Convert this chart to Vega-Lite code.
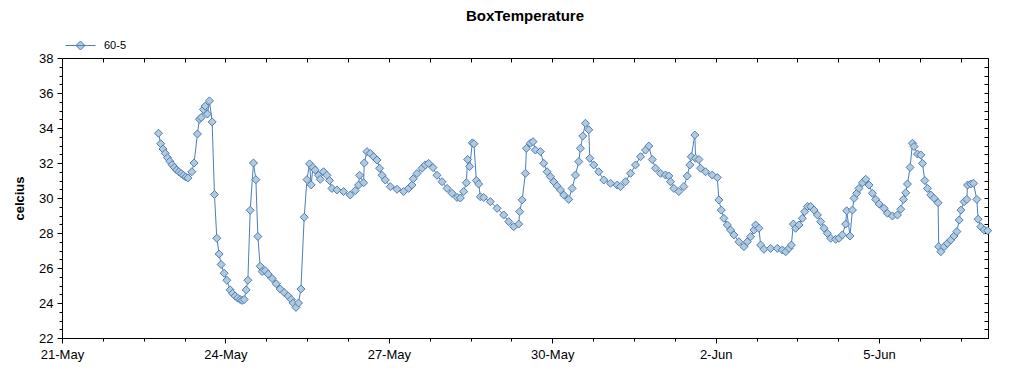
{
  "$schema": "https://vega.github.io/schema/vega-lite/v6.json",
  "width": 926,
  "height": 280,
  "autosize": {"type": "none"},
  "padding": {"left": 62, "top": 58, "right": 36, "bottom": 37},
  "background": "white",
  "title": {"text": "BoxTemperature", "anchor": "middle", "font": "Liberation Sans", "fontSize": 15, "fontWeight": "bold", "color": "black", "offset": 6},
  "config": {
    "view": {"stroke": "black", "strokeWidth": 1},
    "axis": {"grid": false, "domainColor": "black", "tickColor": "black", "labelColor": "black", "labelFont": "Liberation Sans", "titleFont": "Liberation Sans", "titleColor": "black", "labelOverlap": false, "labelFlush": false}
  },
  "data": {"values": [
    {"t":"2010-05-22T18:30","v":33.7,"s":"60-5"},{"t":"2010-05-22T19:30","v":33.1,"s":"60-5"},{"t":"2010-05-22T20:30","v":32.8,"s":"60-5"},{"t":"2010-05-22T21:30","v":32.55,"s":"60-5"},{"t":"2010-05-22T22:30","v":32.3,"s":"60-5"},{"t":"2010-05-22T23:30","v":32.1,"s":"60-5"},{"t":"2010-05-23T00:30","v":31.9,"s":"60-5"},{"t":"2010-05-23T01:30","v":31.75,"s":"60-5"},{"t":"2010-05-23T02:30","v":31.6,"s":"60-5"},{"t":"2010-05-23T03:30","v":31.5,"s":"60-5"},{"t":"2010-05-23T04:30","v":31.4,"s":"60-5"},{"t":"2010-05-23T05:30","v":31.3,"s":"60-5"},{"t":"2010-05-23T06:30","v":31.2,"s":"60-5"},{"t":"2010-05-23T07:30","v":31.15,"s":"60-5"},
    {"t":"2010-05-23T09:12","v":31.5,"s":"60-5"},{"t":"2010-05-23T10:12","v":32.0,"s":"60-5"},{"t":"2010-05-23T11:40","v":33.66,"s":"60-5"},{"t":"2010-05-23T12:33","v":34.5,"s":"60-5"},{"t":"2010-05-23T13:18","v":34.6,"s":"60-5"},{"t":"2010-05-23T14:18","v":35.06,"s":"60-5"},{"t":"2010-05-23T15:04","v":35.25,"s":"60-5"},{"t":"2010-05-23T16:05","v":34.8,"s":"60-5"},{"t":"2010-05-23T16:58","v":35.55,"s":"60-5"},{"t":"2010-05-23T18:09","v":34.35,"s":"60-5"},{"t":"2010-05-23T19:10","v":30.2,"s":"60-5"},{"t":"2010-05-23T20:13","v":27.7,"s":"60-5"},{"t":"2010-05-23T21:14","v":26.8,"s":"60-5"},{"t":"2010-05-23T22:07","v":26.2,"s":"60-5"},{"t":"2010-05-23T23:26","v":25.7,"s":"60-5"},
    {"t":"2010-05-24T00:38","v":25.3,"s":"60-5"},{"t":"2010-05-24T02:05","v":24.75,"s":"60-5"},{"t":"2010-05-24T03:10","v":24.55,"s":"60-5"},{"t":"2010-05-24T04:17","v":24.4,"s":"60-5"},{"t":"2010-05-24T05:24","v":24.28,"s":"60-5"},{"t":"2010-05-24T06:30","v":24.2,"s":"60-5"},{"t":"2010-05-24T07:22","v":24.15,"s":"60-5"},{"t":"2010-05-24T08:16","v":24.2,"s":"60-5"},{"t":"2010-05-24T09:09","v":24.75,"s":"60-5"},{"t":"2010-05-24T09:54","v":25.3,"s":"60-5"},{"t":"2010-05-24T10:55","v":29.3,"s":"60-5"},{"t":"2010-05-24T12:22","v":32.0,"s":"60-5"},{"t":"2010-05-24T13:25","v":31.05,"s":"60-5"},{"t":"2010-05-24T14:18","v":27.8,"s":"60-5"},{"t":"2010-05-24T15:19","v":26.1,"s":"60-5"},{"t":"2010-05-24T16:12","v":25.8,"s":"60-5"},{"t":"2010-05-24T17:31","v":25.85,"s":"60-5"},{"t":"2010-05-24T18:51","v":25.65,"s":"60-5"},{"t":"2010-05-24T20:36","v":25.4,"s":"60-5"},{"t":"2010-05-24T22:22","v":25.1,"s":"60-5"},
    {"t":"2010-05-25T00:08","v":24.8,"s":"60-5"},{"t":"2010-05-25T01:54","v":24.6,"s":"60-5"},{"t":"2010-05-25T03:40","v":24.4,"s":"60-5"},{"t":"2010-05-25T05:00","v":24.2,"s":"60-5"},{"t":"2010-05-25T05:52","v":24.0,"s":"60-5"},{"t":"2010-05-25T07:04","v":23.75,"s":"60-5"},{"t":"2010-05-25T08:13","v":24.0,"s":"60-5"},{"t":"2010-05-25T09:16","v":24.8,"s":"60-5"},{"t":"2010-05-25T10:43","v":28.9,"s":"60-5"},{"t":"2010-05-25T11:55","v":31.05,"s":"60-5"},{"t":"2010-05-25T13:04","v":31.95,"s":"60-5"},{"t":"2010-05-25T13:48","v":30.75,"s":"60-5"},{"t":"2010-05-25T14:33","v":31.75,"s":"60-5"},{"t":"2010-05-25T15:34","v":31.6,"s":"60-5"},{"t":"2010-05-25T17:02","v":31.3,"s":"60-5"},{"t":"2010-05-25T17:47","v":31.07,"s":"60-5"},{"t":"2010-05-25T19:14","v":31.5,"s":"60-5"},{"t":"2010-05-25T20:44","v":31.3,"s":"60-5"},{"t":"2010-05-25T21:53","v":31.0,"s":"60-5"},{"t":"2010-05-25T22:56","v":30.55,"s":"60-5"},
    {"t":"2010-05-26T01:08","v":30.46,"s":"60-5"},{"t":"2010-05-26T04:03","v":30.37,"s":"60-5"},{"t":"2010-05-26T07:00","v":30.17,"s":"60-5"},{"t":"2010-05-26T09:13","v":30.42,"s":"60-5"},{"t":"2010-05-26T10:40","v":30.74,"s":"60-5"},{"t":"2010-05-26T11:07","v":31.3,"s":"60-5"},{"t":"2010-05-26T12:53","v":30.87,"s":"60-5"},{"t":"2010-05-26T13:11","v":32.0,"s":"60-5"},{"t":"2010-05-26T14:22","v":32.65,"s":"60-5"},{"t":"2010-05-26T15:50","v":32.55,"s":"60-5"},{"t":"2010-05-26T17:17","v":32.36,"s":"60-5"},{"t":"2010-05-26T18:47","v":32.17,"s":"60-5"},{"t":"2010-05-26T19:56","v":31.7,"s":"60-5"},{"t":"2010-05-26T21:00","v":31.3,"s":"60-5"},{"t":"2010-05-26T22:26","v":31.03,"s":"60-5"},
    {"t":"2010-05-27T00:39","v":30.65,"s":"60-5"},{"t":"2010-05-27T03:36","v":30.5,"s":"60-5"},{"t":"2010-05-27T06:31","v":30.37,"s":"60-5"},{"t":"2010-05-27T08:43","v":30.55,"s":"60-5"},{"t":"2010-05-27T10:13","v":30.74,"s":"60-5"},{"t":"2010-05-27T10:45","v":31.1,"s":"60-5"},{"t":"2010-05-27T12:25","v":31.4,"s":"60-5"},{"t":"2010-05-27T14:37","v":31.7,"s":"60-5"},{"t":"2010-05-27T16:05","v":31.89,"s":"60-5"},{"t":"2010-05-27T17:32","v":31.98,"s":"60-5"},{"t":"2010-05-27T19:29","v":31.74,"s":"60-5"},{"t":"2010-05-27T21:14","v":31.3,"s":"60-5"},{"t":"2010-05-27T23:26","v":30.93,"s":"60-5"},
    {"t":"2010-05-28T01:39","v":30.55,"s":"60-5"},{"t":"2010-05-28T03:51","v":30.27,"s":"60-5"},{"t":"2010-05-28T06:04","v":30.03,"s":"60-5"},{"t":"2010-05-28T07:31","v":30.0,"s":"60-5"},{"t":"2010-05-28T08:58","v":30.37,"s":"60-5"},{"t":"2010-05-28T10:09","v":30.87,"s":"60-5"},{"t":"2010-05-28T10:44","v":32.2,"s":"60-5"},{"t":"2010-05-28T11:37","v":31.8,"s":"60-5"},{"t":"2010-05-28T12:48","v":33.15,"s":"60-5"},{"t":"2010-05-28T13:30","v":33.1,"s":"60-5"},{"t":"2010-05-28T14:34","v":31.0,"s":"60-5"},{"t":"2010-05-28T15:35","v":30.8,"s":"60-5"},{"t":"2010-05-28T16:20","v":30.07,"s":"60-5"},{"t":"2010-05-28T17:48","v":30.03,"s":"60-5"},{"t":"2010-05-28T20:45","v":29.79,"s":"60-5"},{"t":"2010-05-28T23:42","v":29.41,"s":"60-5"},
    {"t":"2010-05-29T02:37","v":29.03,"s":"60-5"},{"t":"2010-05-29T04:49","v":28.65,"s":"60-5"},{"t":"2010-05-29T07:01","v":28.36,"s":"60-5"},{"t":"2010-05-29T09:14","v":28.51,"s":"60-5"},{"t":"2010-05-29T09:40","v":29.22,"s":"60-5"},{"t":"2010-05-29T10:44","v":29.89,"s":"60-5"},{"t":"2010-05-29T12:11","v":31.41,"s":"60-5"},{"t":"2010-05-29T12:38","v":32.84,"s":"60-5"},{"t":"2010-05-29T14:22","v":33.13,"s":"60-5"},{"t":"2010-05-29T15:33","v":33.22,"s":"60-5"},{"t":"2010-05-29T16:34","v":32.74,"s":"60-5"},{"t":"2010-05-29T18:47","v":32.65,"s":"60-5"},{"t":"2010-05-29T20:15","v":31.98,"s":"60-5"},{"t":"2010-05-29T21:45","v":31.5,"s":"60-5"},{"t":"2010-05-29T23:12","v":31.22,"s":"60-5"},
    {"t":"2010-05-30T00:40","v":30.93,"s":"60-5"},{"t":"2010-05-30T02:09","v":30.69,"s":"60-5"},{"t":"2010-05-30T03:37","v":30.46,"s":"60-5"},{"t":"2010-05-30T05:04","v":30.17,"s":"60-5"},{"t":"2010-05-30T07:16","v":29.92,"s":"60-5"},{"t":"2010-05-30T08:46","v":30.55,"s":"60-5"},{"t":"2010-05-30T10:14","v":31.31,"s":"60-5"},{"t":"2010-05-30T11:41","v":32.08,"s":"60-5"},{"t":"2010-05-30T12:26","v":32.84,"s":"60-5"},{"t":"2010-05-30T13:27","v":33.54,"s":"60-5"},{"t":"2010-05-30T14:38","v":34.27,"s":"60-5"},{"t":"2010-05-30T16:06","v":33.9,"s":"60-5"},{"t":"2010-05-30T16:32","v":32.27,"s":"60-5"},{"t":"2010-05-30T18:18","v":31.89,"s":"60-5"},{"t":"2010-05-30T20:30","v":31.5,"s":"60-5"},{"t":"2010-05-30T22:43","v":31.03,"s":"60-5"},
    {"t":"2010-05-31T01:40","v":30.84,"s":"60-5"},{"t":"2010-05-31T04:37","v":30.74,"s":"60-5"},{"t":"2010-05-31T06:05","v":30.65,"s":"60-5"},{"t":"2010-05-31T08:17","v":30.93,"s":"60-5"},{"t":"2010-05-31T10:29","v":31.41,"s":"60-5"},{"t":"2010-05-31T12:41","v":31.89,"s":"60-5"},{"t":"2010-05-31T14:54","v":32.36,"s":"60-5"},{"t":"2010-05-31T17:06","v":32.74,"s":"60-5"},{"t":"2010-05-31T18:34","v":32.97,"s":"60-5"},{"t":"2010-05-31T20:04","v":32.2,"s":"60-5"},{"t":"2010-05-31T21:31","v":31.7,"s":"60-5"},{"t":"2010-05-31T23:43","v":31.41,"s":"60-5"},
    {"t":"2010-06-01T01:55","v":31.31,"s":"60-5"},{"t":"2010-06-01T03:22","v":31.26,"s":"60-5"},{"t":"2010-06-01T04:07","v":30.93,"s":"60-5"},{"t":"2010-06-01T05:35","v":30.55,"s":"60-5"},{"t":"2010-06-01T07:47","v":30.37,"s":"60-5"},{"t":"2010-06-01T09:59","v":30.65,"s":"60-5"},{"t":"2010-06-01T11:29","v":31.26,"s":"60-5"},{"t":"2010-06-01T12:38","v":31.89,"s":"60-5"},{"t":"2010-06-01T13:15","v":32.36,"s":"60-5"},{"t":"2010-06-01T14:50","v":33.6,"s":"60-5"},{"t":"2010-06-01T15:09","v":32.27,"s":"60-5"},{"t":"2010-06-01T16:37","v":32.2,"s":"60-5"},{"t":"2010-06-01T17:21","v":31.7,"s":"60-5"},{"t":"2010-06-01T19:34","v":31.5,"s":"60-5"},{"t":"2010-06-01T22:31","v":31.31,"s":"60-5"},
    {"t":"2010-06-02T00:44","v":31.17,"s":"60-5"},{"t":"2010-06-02T01:26","v":29.89,"s":"60-5"},{"t":"2010-06-02T02:29","v":29.31,"s":"60-5"},{"t":"2010-06-02T03:38","v":28.84,"s":"60-5"},{"t":"2010-06-02T05:08","v":28.46,"s":"60-5"},{"t":"2010-06-02T06:35","v":28.17,"s":"60-5"},{"t":"2010-06-02T08:03","v":27.89,"s":"60-5"},{"t":"2010-06-02T10:15","v":27.5,"s":"60-5"},{"t":"2010-06-02T12:27","v":27.22,"s":"60-5"},{"t":"2010-06-02T13:57","v":27.5,"s":"60-5"},{"t":"2010-06-02T15:24","v":27.79,"s":"60-5"},{"t":"2010-06-02T16:52","v":28.17,"s":"60-5"},{"t":"2010-06-02T17:37","v":28.46,"s":"60-5"},{"t":"2010-06-02T19:05","v":28.27,"s":"60-5"},{"t":"2010-06-02T19:50","v":27.31,"s":"60-5"},{"t":"2010-06-02T21:17","v":27.07,"s":"60-5"},
    {"t":"2010-06-03T00:13","v":27.12,"s":"60-5"},{"t":"2010-06-03T03:10","v":27.12,"s":"60-5"},{"t":"2010-06-03T05:22","v":27.03,"s":"60-5"},{"t":"2010-06-03T06:50","v":26.93,"s":"60-5"},{"t":"2010-06-03T08:18","v":27.12,"s":"60-5"},{"t":"2010-06-03T09:21","v":27.31,"s":"60-5"},{"t":"2010-06-03T10:14","v":28.51,"s":"60-5"},{"t":"2010-06-03T11:15","v":28.27,"s":"60-5"},{"t":"2010-06-03T12:42","v":28.46,"s":"60-5"},{"t":"2010-06-03T14:12","v":28.84,"s":"60-5"},{"t":"2010-06-03T15:13","v":29.22,"s":"60-5"},{"t":"2010-06-03T16:25","v":29.51,"s":"60-5"},{"t":"2010-06-03T17:52","v":29.51,"s":"60-5"},{"t":"2010-06-03T19:20","v":29.31,"s":"60-5"},{"t":"2010-06-03T20:50","v":29.03,"s":"60-5"},{"t":"2010-06-03T22:17","v":28.65,"s":"60-5"},{"t":"2010-06-03T23:45","v":28.27,"s":"60-5"},
    {"t":"2010-06-04T01:13","v":27.98,"s":"60-5"},{"t":"2010-06-04T02:41","v":27.7,"s":"60-5"},{"t":"2010-06-04T04:53","v":27.64,"s":"60-5"},{"t":"2010-06-04T06:21","v":27.7,"s":"60-5"},{"t":"2010-06-04T07:50","v":27.89,"s":"60-5"},{"t":"2010-06-04T09:18","v":28.51,"s":"60-5"},{"t":"2010-06-04T09:44","v":29.27,"s":"60-5"},{"t":"2010-06-04T11:12","v":27.83,"s":"60-5"},{"t":"2010-06-04T12:15","v":29.31,"s":"60-5"},{"t":"2010-06-04T12:58","v":29.98,"s":"60-5"},{"t":"2010-06-04T14:09","v":30.27,"s":"60-5"},{"t":"2010-06-04T15:10","v":30.55,"s":"60-5"},{"t":"2010-06-04T16:40","v":30.87,"s":"60-5"},{"t":"2010-06-04T18:08","v":31.07,"s":"60-5"},{"t":"2010-06-04T19:35","v":30.74,"s":"60-5"},{"t":"2010-06-04T21:04","v":30.27,"s":"60-5"},{"t":"2010-06-04T22:32","v":29.92,"s":"60-5"},
    {"t":"2010-06-05T00:00","v":29.66,"s":"60-5"},{"t":"2010-06-05T02:12","v":29.41,"s":"60-5"},{"t":"2010-06-05T03:42","v":29.13,"s":"60-5"},{"t":"2010-06-05T05:54","v":28.97,"s":"60-5"},{"t":"2010-06-05T08:06","v":29.03,"s":"60-5"},{"t":"2010-06-05T09:33","v":29.36,"s":"60-5"},{"t":"2010-06-05T10:45","v":29.92,"s":"60-5"},{"t":"2010-06-05T11:46","v":30.3,"s":"60-5"},{"t":"2010-06-05T12:31","v":30.8,"s":"60-5"},{"t":"2010-06-05T13:40","v":31.75,"s":"60-5"},{"t":"2010-06-05T14:44","v":33.13,"s":"60-5"},{"t":"2010-06-05T15:26","v":32.94,"s":"60-5"},{"t":"2010-06-05T16:56","v":32.51,"s":"60-5"},{"t":"2010-06-05T18:23","v":32.46,"s":"60-5"},{"t":"2010-06-05T19:08","v":31.98,"s":"60-5"},{"t":"2010-06-05T20:09","v":31.0,"s":"60-5"},{"t":"2010-06-05T21:20","v":30.55,"s":"60-5"},{"t":"2010-06-05T22:47","v":30.17,"s":"60-5"},
    {"t":"2010-06-06T00:15","v":29.98,"s":"60-5"},{"t":"2010-06-06T02:00","v":29.73,"s":"60-5"},{"t":"2010-06-06T02:18","v":27.22,"s":"60-5"},{"t":"2010-06-06T03:12","v":26.93,"s":"60-5"},{"t":"2010-06-06T04:40","v":27.22,"s":"60-5"},{"t":"2010-06-06T06:07","v":27.41,"s":"60-5"},{"t":"2010-06-06T07:35","v":27.6,"s":"60-5"},{"t":"2010-06-06T09:03","v":27.83,"s":"60-5"},{"t":"2010-06-06T10:17","v":28.08,"s":"60-5"},{"t":"2010-06-06T11:18","v":28.74,"s":"60-5"},{"t":"2010-06-06T12:03","v":29.31,"s":"60-5"},{"t":"2010-06-06T13:30","v":29.79,"s":"60-5"},{"t":"2010-06-06T14:41","v":29.92,"s":"60-5"},{"t":"2010-06-06T14:59","v":30.74,"s":"60-5"},{"t":"2010-06-06T16:26","v":30.8,"s":"60-5"},{"t":"2010-06-06T17:37","v":30.84,"s":"60-5"},{"t":"2010-06-06T19:04","v":29.92,"s":"60-5"},{"t":"2010-06-06T19:38","v":28.79,"s":"60-5"},{"t":"2010-06-06T20:50","v":28.36,"s":"60-5"},{"t":"2010-06-06T22:18","v":28.17,"s":"60-5"},{"t":"2010-06-06T23:50","v":28.13,"s":"60-5"}
  ]},
  "resolve": {"axis": {"x": "independent", "y": "independent"}},
  "layer": [
    {
      "mark": {"type": "line", "strokeWidth": 1, "interpolate": "linear"},
      "encoding": {
        "x": {"field": "t", "type": "temporal",
          "scale": {"domain": [{"year": 2010, "month": "May", "date": 21}, {"year": 2010, "month": "June", "date": 7}], "nice": false},
          "axis": {"orient": "bottom", "title": null,
            "values": [
              {"year":2010,"month":"May","date":21,"hours":0},{"year":2010,"month":"May","date":21,"hours":18},{"year":2010,"month":"May","date":22,"hours":12},{"year":2010,"month":"May","date":23,"hours":6},
              {"year":2010,"month":"May","date":24,"hours":0},{"year":2010,"month":"May","date":24,"hours":18},{"year":2010,"month":"May","date":25,"hours":12},{"year":2010,"month":"May","date":26,"hours":6},
              {"year":2010,"month":"May","date":27,"hours":0},{"year":2010,"month":"May","date":27,"hours":18},{"year":2010,"month":"May","date":28,"hours":12},{"year":2010,"month":"May","date":29,"hours":6},
              {"year":2010,"month":"May","date":30,"hours":0},{"year":2010,"month":"May","date":30,"hours":18},{"year":2010,"month":"May","date":31,"hours":12},{"year":2010,"month":"June","date":1,"hours":6},
              {"year":2010,"month":"June","date":2,"hours":0},{"year":2010,"month":"June","date":2,"hours":18},{"year":2010,"month":"June","date":3,"hours":12},{"year":2010,"month":"June","date":4,"hours":6},
              {"year":2010,"month":"June","date":5,"hours":0},{"year":2010,"month":"June","date":5,"hours":18},{"year":2010,"month":"June","date":6,"hours":12}
            ],
            "labelExpr": "hours(datum.value) == 0 ? timeFormat(datum.value, '%-d-%b') : ''",
            "tickSize": {"condition": {"test": "hours(datum.value) == 0", "value": 5}, "value": 3},
            "labelFontSize": 13, "labelPadding": 5}
        },
        "y": {"field": "v", "type": "quantitative",
          "scale": {"domain": [22, 38], "nice": false, "zero": false},
          "axis": {"orient": "left", "title": "celcius", "titleFontSize": 13, "titleFontWeight": "bold", "titlePadding": 12,
            "values": [22,22.5,23,23.5,24,24.5,25,25.5,26,26.5,27,27.5,28,28.5,29,29.5,30,30.5,31,31.5,32,32.5,33,33.5,34,34.5,35,35.5,36,36.5,37,37.5,38],
            "labelExpr": "datum.value % 2 == 0 ? format(datum.value, 'd') : ''",
            "tickSize": {"condition": {"test": "datum.value % 2 == 0", "value": 5}, "value": 3},
            "labelFontSize": 13, "labelPadding": 4}
        },
        "color": {"field": "s", "type": "nominal", "scale": {"range": ["#4a7ebb"]},
          "legend": {"title": null, "orient": "none", "legendX": 3, "legendY": -28,
            "symbolType": "M-1,0L1,0M0,-0.3L0.3,0L0,0.3L-0.3,0Z", "symbolSize": 900, "symbolStrokeWidth": 1,
            "labelFont": "Liberation Sans", "labelFontSize": 11, "labelColor": "black", "labelOffset": 8,
            "encode": {"symbols": {"update": {"fill": {"value": "#b4cadb"}, "stroke": {"value": "#4a7ebb"}, "strokeWidth": {"value": 1}}}}}
        }
      }
    },
    {
      "mark": {"type": "point", "shape": "diamond", "filled": true, "fill": "#b4cadb", "stroke": "#4a7ebb", "strokeWidth": 1, "size": 64, "opacity": 1},
      "encoding": {
        "x": {"field": "t", "type": "temporal",
          "axis": {"orient": "top", "title": null, "labels": false, "tickSize": -4,
            "values": [
              {"year":2010,"month":"May","date":21,"hours":18},{"year":2010,"month":"May","date":22,"hours":12},{"year":2010,"month":"May","date":23,"hours":6},
              {"year":2010,"month":"May","date":24,"hours":0},{"year":2010,"month":"May","date":24,"hours":18},{"year":2010,"month":"May","date":25,"hours":12},{"year":2010,"month":"May","date":26,"hours":6},
              {"year":2010,"month":"May","date":27,"hours":0},{"year":2010,"month":"May","date":27,"hours":18},{"year":2010,"month":"May","date":28,"hours":12},{"year":2010,"month":"May","date":29,"hours":6},
              {"year":2010,"month":"May","date":30,"hours":0},{"year":2010,"month":"May","date":30,"hours":18},{"year":2010,"month":"May","date":31,"hours":12},{"year":2010,"month":"June","date":1,"hours":6},
              {"year":2010,"month":"June","date":2,"hours":0},{"year":2010,"month":"June","date":2,"hours":18},{"year":2010,"month":"June","date":3,"hours":12},{"year":2010,"month":"June","date":4,"hours":6},
              {"year":2010,"month":"June","date":5,"hours":0},{"year":2010,"month":"June","date":5,"hours":18},{"year":2010,"month":"June","date":6,"hours":12}
            ]}
        },
        "y": {"field": "v", "type": "quantitative",
          "axis": {"orient": "right", "title": null, "labels": false, "tickSize": -4,
            "values": [22.5,23,23.5,24,24.5,25,25.5,26,26.5,27,27.5,28,28.5,29,29.5,30,30.5,31,31.5,32,32.5,33,33.5,34,34.5,35,35.5,36,36.5,37,37.5]}
        }
      }
    }
  ]
}
